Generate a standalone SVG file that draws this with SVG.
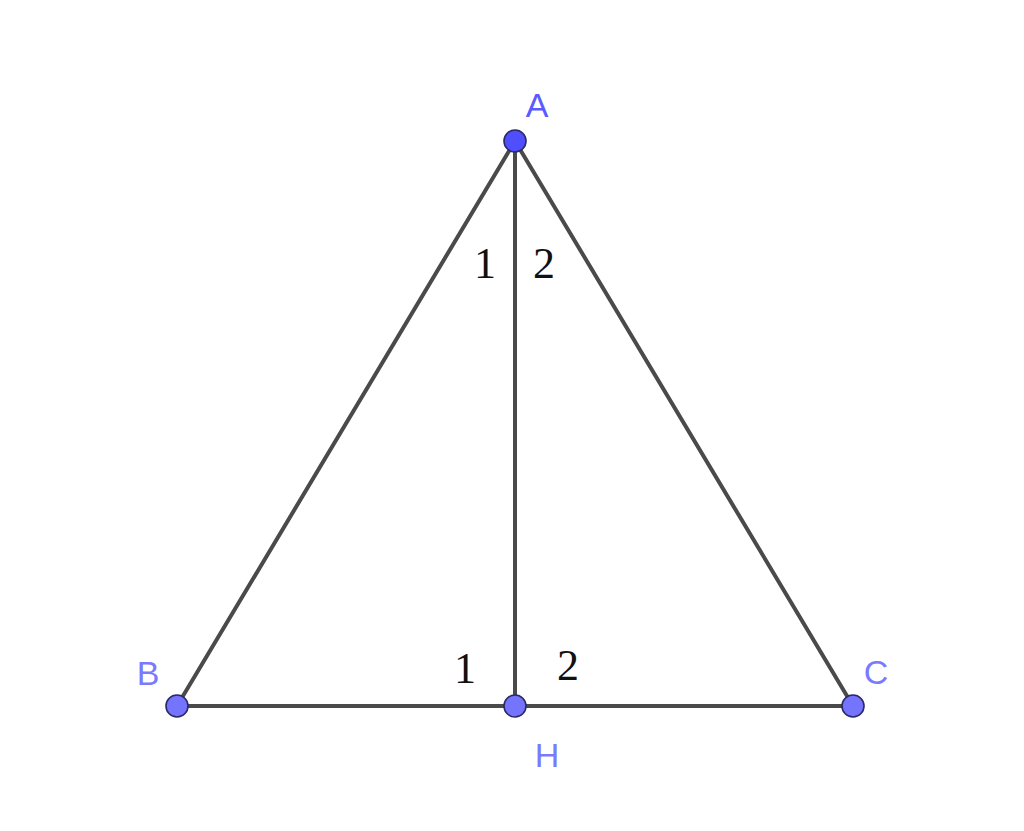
<svg xmlns="http://www.w3.org/2000/svg" width="1024" height="831" viewBox="0 0 1024 831">
<style>
.seg{stroke:#4a4a4a;stroke-width:4;fill:none;stroke-linecap:round}
.pt{fill:#7474ff;stroke:#2a2a66;stroke-width:1.6}
.lbl{font-family:"Liberation Sans",Arial,sans-serif;font-size:34px;fill:#7a7aff}
.num{font-family:"Liberation Serif","Times New Roman",serif;font-size:44px;fill:#111}
</style>
<rect width="1024" height="831" fill="#fff"/>
<g id="connectors">
<line class="seg" x1="515" y1="141" x2="177" y2="706"/>
<line class="seg" x1="515" y1="141" x2="853" y2="706"/>
<line class="seg" x1="515" y1="141" x2="515" y2="706"/>
<line class="seg" x1="177" y1="706" x2="853" y2="706"/>
</g>
<g id="angles">
<text class="num" x="485" y="278" text-anchor="middle">1</text>
<text class="num" x="544" y="278" text-anchor="middle">2</text>
<text class="num" x="465" y="683" text-anchor="middle">1</text>
<text class="num" x="568" y="680" text-anchor="middle">2</text>
</g>
<g id="A"><circle class="pt" cx="515" cy="141" r="11" style="fill:#4f4fff"/><text class="lbl" x="537" y="117" text-anchor="middle" style="fill:#5a5aff">A</text></g>
<g id="B"><circle class="pt" cx="177" cy="706" r="11"/><text class="lbl" x="148" y="685" text-anchor="middle">B</text></g>
<g id="C"><circle class="pt" cx="853" cy="706" r="11"/><text class="lbl" x="876" y="684" text-anchor="middle">C</text></g>
<g id="H"><circle class="pt" cx="515" cy="706" r="11"/><text class="lbl" x="547" y="767" text-anchor="middle">H</text></g>
</svg>
